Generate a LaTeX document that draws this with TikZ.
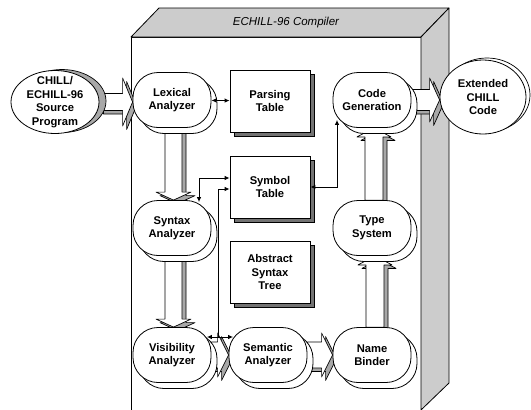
\documentclass[tikz,border=0pt]{standalone}
\usepackage{fontspec}
\setmainfont{Liberation Sans}
\usetikzlibrary{shapes.geometric,shadows,calc,arrows.meta}

\definecolor{facegray}{gray}{0.80}
\definecolor{edgegray}{gray}{0.66}

\newcommand\nodefont{\bfseries\fontsize{11.2}{13.5}\selectfont}
\newcommand\titlefont{\itshape\fontsize{11.5}{13}\selectfont}

\pgfdeclarelayer{housing}
\pgfdeclarelayer{flow}
\pgfsetlayers{housing,flow,main}

% point of a block arrow: #1 distance along the arrow, #2 distance across it
\newcommand\bapt[2]{({\x3+(#1)*\n3-(#2)*\n4},{\y3+(#1)*\n4+(#2)*\n3})}

% one outline of a block arrow, displaced by (#6,#7), filled with #8
\newcommand\blockarrowpoly[8]{%
  \filldraw[fill=#8, line width=0.7pt, line join=round]
    let \p1=(#1), \p2=(#2),
        \n2={veclen(\x2-\x1,\y2-\y1)},
        \n3={(\x2-\x1)/\n2}, \n4={(\y2-\y1)/\n2},
        \p3=({\x1+#6},{\y1+#7}) in
    \bapt{0pt}{-#3} -- \bapt{\n2-#5}{-#3} -- \bapt{\n2-#5}{-#4} -- \bapt{\n2}{0pt}
    -- \bapt{\n2-#5}{#4} -- \bapt{\n2-#5}{#3} -- \bapt{0pt}{#3} -- cycle;
}

% hollow block arrow with a grey relief edge:
% #1 start, #2 end, #3 shaft half width, #4 head half width, #5 head length
\newcommand\blockarrow[5]{%
  \blockarrowpoly{#1}{#2}{#3}{#4}{#5}{4pt}{-3.5pt}{edgegray}%
  \blockarrowpoly{#1}{#2}{#3}{#4}{#5}{0pt}{0pt}{white}%
}

\tikzset{
  stage/.style={rectangle, rounded corners=25pt, draw, line width=0.8pt,
    fill=white, minimum width=78pt, minimum height=55pt, inner sep=0pt,
    align=center, font=\nodefont,
    general shadow={shadow xshift=6pt, shadow yshift=-6pt, fill=white,
      draw=black, line width=0.8pt}},
  tablebox/.style={rectangle, draw, line width=0.8pt, fill=white,
    minimum width=80pt, minimum height=62pt, inner sep=0pt,
    align=center, font=\nodefont,
    general shadow={shadow xshift=4pt, shadow yshift=-4pt, fill=black!55,
      draw=black, line width=0.6pt}},
  srcnode/.style={ellipse, draw, line width=0.8pt, fill=white,
    minimum width=88pt, minimum height=63pt, inner sep=0pt,
    general shadow={shadow xshift=7pt, shadow yshift=1pt, fill=edgegray,
      draw=black, line width=0.7pt}},
  extnode/.style={ellipse, draw, line width=0.8pt, fill=white,
    minimum width=86pt, minimum height=74pt, inner sep=0pt,
    align=center, font=\nodefont,
    general shadow={shadow xshift=4pt, shadow yshift=2pt, fill=white,
      draw=black, line width=0.7pt}},
  label text/.style={align=center, font=\nodefont, inner sep=0pt},
  link/.style={line width=0.9pt, >={Latex[length=5pt,width=4.5pt]}}
}

\begin{document}
\begin{tikzpicture}[x=1pt,y=-1pt]
\useasboundingbox (0,0) rectangle (531,410);

% compiler housing: front face, lid and side
\begin{pgfonlayer}{housing}
  \draw[line width=0.8pt, fill=white] (131,410) -- (131,37) -- (421,37) -- (421,410);
  \filldraw[line width=0.8pt, fill=facegray, line join=round]
    (131,37) -- (159,8) -- (449,8) -- (421,37) -- cycle;
  \filldraw[line width=0.8pt, fill=facegray, line join=round]
    (421,37) -- (449,8) -- (449,383) -- (421,410) -- cycle;
\end{pgfonlayer}
\node[font=\titlefont] (title) at (286,23) {ECHILL-96 Compiler};

% processing stages
\node[stage] (lex) at (172,100) {Lexical\\Analyzer};
\node[stage] (syn) at (172,228) {Syntax\\Analyzer};
\node[stage] (vis) at (172,355) {Visibility\\Analyzer};
\node[stage] (sem) at (268,355) {Semantic\\Analyzer};
\node[stage] (nam) at (372,355) {Name\\Binder};
\node[stage] (typ) at (372,228) {Type\\System};
\node[stage] (cod) at (372,100) {Code\\Generation};

% shared tables
\node[tablebox] (par) at (270,101) {Parsing\\Table};
\node[tablebox] (sym) at (270,187) {Symbol\\Table};
\node[tablebox] (ast) at (270,272) {Abstract\\Syntax\\Tree};

% input and output
\node[srcnode] (src) at (55,102) {};
\node[label text] (srctext) at (src) {CHILL/\\ECHILL-96\\Source\\Program};
\node[extnode] (ext) at (483,97) {Extended\\CHILL\\Code};

% main compilation flow
\begin{pgfonlayer}{flow}
  \blockarrow{src.east}{src.east -| lex.west}{8.5pt}{24pt}{10pt}
  \blockarrow{[xshift=1.5pt]lex.south}{[xshift=1.5pt]syn.north}{8.5pt}{17.5pt}{8pt}
  \blockarrow{[xshift=1.5pt]syn.south}{[xshift=1.5pt]vis.north}{8.5pt}{17.5pt}{8pt}
  \blockarrow{vis.east}{sem.west}{13pt}{22pt}{11pt}
  \blockarrow{sem.east}{nam.west}{13pt}{22pt}{11pt}
  \blockarrow{[xshift=3pt]nam.north}{[xshift=3pt]typ.south}{9pt}{17pt}{9pt}
  \blockarrow{[xshift=2pt]typ.north}{[xshift=2pt]cod.south}{9pt}{17pt}{9pt}
  \blockarrow{cod.east}{cod.east -| ext.west}{10.5pt}{22pt}{10pt}
\end{pgfonlayer}

% table accesses
\draw[link,<->] (lex) -- (par);
\draw[link,<->] ([yshift=9pt]sym.west) -| ([xshift=27pt,yshift=-2pt]syn.north);
\draw[link,<->] ([xshift=-4.5pt,yshift=18pt]vis.east) -- ([xshift=4.5pt,yshift=18pt]sem.west);
\path ($(vis.east)!0.5!(sem.west)$) ++(-2,-18) coordinate (vj);
\draw[link,->] (vj) |- ([yshift=-2pt]sym.west);
\draw[link,<->] (sym.east) -| ([xshift=-35pt,yshift=8pt]cod.south);
\end{tikzpicture}
\end{document}
